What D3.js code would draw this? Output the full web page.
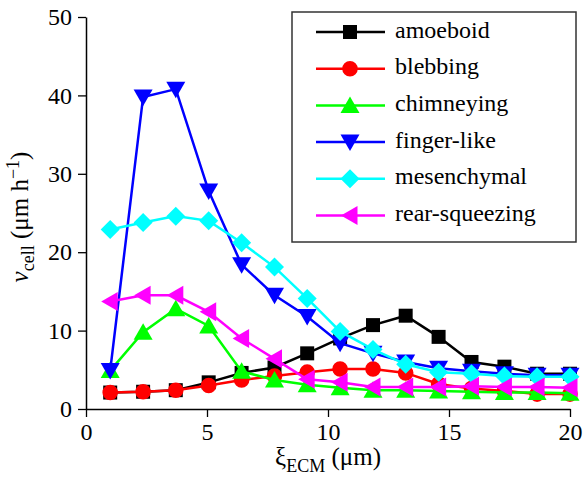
<!DOCTYPE html>
<html>
<head>
<meta charset="utf-8">
<script src="https://cdn.jsdelivr.net/npm/d3@7"></script>
<style>
  body { margin: 0; background: #fff; }
</style>
</head>
<body>
<div id="chart"></div>
<script>
// xi_ECM values (um)
const xiValues = [1, 2.36, 3.71, 5.07, 6.43, 7.79, 9.14, 10.5, 11.86, 13.21, 14.57, 15.93, 17.29, 18.64, 20];

// cell speed (um/h) per migration mode
const amoeboid     = [2.1, 2.2, 2.4, 3.4, 4.6, 5.3, 7.1, 9.0, 10.7, 11.9, 9.2, 6.0, 5.4, 4.5, 4.5];
const blebbing     = [2.1, 2.2, 2.4, 3.0, 3.7, 4.2, 4.7, 5.1, 5.1, 4.6, 3.2, 2.6, 2.3, 1.9, 1.9];
const chimneying   = [4.9, 9.8, 12.8, 10.6, 4.8, 3.7, 3.1, 2.7, 2.4, 2.4, 2.3, 2.2, 2.1, 2.1, 2.0];
const fingerLike   = [4.9, 39.8, 40.8, 27.8, 18.4, 14.5, 11.8, 8.4, 7.1, 6.0, 5.2, 4.8, 4.5, 4.3, 4.3];
const mesenchymal  = [22.9, 23.8, 24.6, 24.0, 21.2, 18.1, 14.1, 9.9, 7.6, 5.7, 4.7, 4.5, 4.2, 4.1, 4.1];
const rearSqueeze  = [13.7, 14.5, 14.5, 12.4, 9.0, 6.4, 3.8, 3.4, 2.8, 2.8, 2.8, 2.9, 2.8, 2.8, 2.7];

const xTicks = [0, 5, 10, 15, 20];
const yTicks = [0, 10, 20, 30, 40, 50];

const series = [
  {name: "amoeboid",       values: amoeboid,    color: "#000000", shape: "square"},
  {name: "blebbing",       values: blebbing,    color: "#ff0000", shape: "circle"},
  {name: "chimneying",     values: chimneying,  color: "#00ff00", shape: "triUp"},
  {name: "finger-like",    values: fingerLike,  color: "#0000ff", shape: "triDown"},
  {name: "mesenchymal",    values: mesenchymal, color: "#00ffff", shape: "diamond"},
  {name: "rear-squeezing", values: rearSqueeze, color: "#ff00ff", shape: "triLeft"}
];

const FONT = "Liberation Serif";

const W = 583, H = 479;
const margin = {top: 17, right: 13, bottom: 70, left: 86};
const width = W - margin.left - margin.right;
const height = H - margin.top - margin.bottom;

const svg = d3.select("#chart").append("svg")
  .attr("width", W)
  .attr("height", H)
  .attr("font-family", FONT);

const g = svg.append("g")
  .attr("transform", "translate(" + margin.left + "," + margin.top + ")");

const x = d3.scaleLinear().domain([0, 20]).range([0, width]);
const y = d3.scaleLinear().domain([0, 50]).range([height, 0]);

// marker path generator
function marker(shape) {
  const p = d3.path();
  if (shape === "square") {
    p.rect(-7, -7, 14, 14);
  } else if (shape === "circle") {
    p.arc(0, 0, 7.8, 0, 2 * Math.PI);
  } else if (shape === "triUp") {
    p.moveTo(0, -9); p.lineTo(9.5, 7.5); p.lineTo(-9.5, 7.5); p.closePath();
  } else if (shape === "triDown") {
    p.moveTo(0, 9); p.lineTo(9.5, -7.5); p.lineTo(-9.5, -7.5); p.closePath();
  } else if (shape === "triLeft") {
    p.moveTo(-9, 0); p.lineTo(7.5, -9.5); p.lineTo(7.5, 9.5); p.closePath();
  } else if (shape === "diamond") {
    p.moveTo(0, -9.5); p.lineTo(9.5, 0); p.lineTo(0, 9.5); p.lineTo(-9.5, 0); p.closePath();
  }
  return p.toString();
}

// axes
const xAxis = d3.axisBottom(x).tickValues(xTicks).tickSize(8).tickPadding(6).tickSizeOuter(0);
const yAxis = d3.axisLeft(y).tickValues(yTicks).tickSize(8).tickPadding(6).tickSizeOuter(0);

const gx = g.append("g")
  .attr("transform", "translate(0," + height + ")");
gx.call(d3.axisBottom(x).tickValues(d3.range(2.5, 20, 5)).tickSize(4).tickFormat("").tickSizeOuter(0));
gx.call(xAxis);

const gy = g.append("g");
gy.call(d3.axisLeft(y).tickValues(d3.range(5, 50, 10)).tickSize(4).tickFormat("").tickSizeOuter(0));
gy.call(yAxis);

g.selectAll("g").attr("font-family", FONT);
g.selectAll(".domain").attr("stroke", "#000").attr("stroke-width", 1.5);
g.selectAll(".tick line").attr("stroke", "#000").attr("stroke-width", 1.3);
g.selectAll(".tick text")
  .attr("fill", "#000")
  .attr("font-family", FONT)
  .attr("font-size", 24);

// series lines + markers
const line = d3.line()
  .x((d, i) => x(xiValues[i]))
  .y(d => y(d));

series.forEach(s => {
  const sg = g.append("g");
  sg.append("path")
    .datum(s.values)
    .attr("fill", "none")
    .attr("stroke", s.color)
    .attr("stroke-width", 2.5)
    .attr("d", line);
  sg.selectAll("path.mk")
    .data(s.values)
    .join("path")
    .attr("class", "mk")
    .attr("transform", (d, i) => "translate(" + x(xiValues[i]) + "," + y(d) + ")")
    .attr("d", marker(s.shape))
    .attr("fill", s.color);
});

// legend
const legend = svg.append("g").attr("transform", "translate(292,12)");
legend.append("rect")
  .attr("width", 284)
  .attr("height", 230)
  .attr("fill", "#fff")
  .attr("stroke", "#333")
  .attr("stroke-width", 1.5);

series.forEach((s, i) => {
  const row = legend.append("g")
    .attr("transform", "translate(0," + (20 + i * 36.7) + ")");
  row.append("line")
    .attr("x1", 24).attr("x2", 93)
    .attr("stroke", s.color)
    .attr("stroke-width", 2.5);
  row.append("path")
    .attr("transform", "translate(58,0)")
    .attr("d", marker(s.shape))
    .attr("fill", s.color);
  row.append("text")
    .attr("x", 103)
    .attr("y", 5.5)
    .attr("font-family", FONT)
    .attr("font-size", 24)
    .text(s.name);
});

// axis titles
const xt = svg.append("text")
  .attr("x", 328)
  .attr("y", 465)
  .attr("text-anchor", "middle")
  .attr("font-family", FONT)
  .attr("font-size", 25);
xt.append("tspan").text("ξ");
xt.append("tspan").attr("dy", 7).attr("font-size", 18).text("ECM");
xt.append("tspan").attr("dy", -7).text(" (μm)");

const yt = svg.append("text")
  .attr("transform", "translate(28,217) rotate(-90)")
  .attr("text-anchor", "middle")
  .attr("font-family", FONT)
  .attr("font-size", 25);
yt.append("tspan").attr("font-style", "italic").text("v");
yt.append("tspan").attr("dy", 6).attr("font-size", 18).text("cell");
yt.append("tspan").attr("dy", -6).text(" (μm h");
yt.append("tspan").attr("dy", -9).attr("font-size", 18).text("−1");
yt.append("tspan").attr("dy", 9).text(")");
</script>
</body>
</html>
